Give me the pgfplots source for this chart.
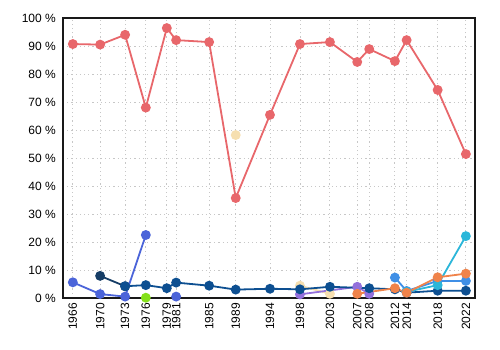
\documentclass[border=0pt]{standalone}
\usepackage{pgfplots}
\pgfplotsset{compat=1.18}
\usepackage{fontspec}
\setmainfont{Liberation Sans}
\definecolor{cred}{HTML}{E8676B}
\definecolor{cnavy}{HTML}{163D66}
\definecolor{cblue}{HTML}{0D4F91}
\definecolor{croyal}{HTML}{4B64D9}
\definecolor{cgreen}{HTML}{84E01A}
\definecolor{ccream}{HTML}{F6DFB0}
\definecolor{cpurple}{HTML}{9370DB}
\definecolor{corange}{HTML}{F0834A}
\definecolor{clblue}{HTML}{3F8FE6}
\definecolor{ccyan}{HTML}{2BB6D9}
% x positions are election dates (decimal years)
\begin{document}
\begin{tikzpicture}[x=1pt,y=1pt]
\path (-63pt,-52pt) rectangle (437pt,298pt);
\begin{axis}[
  scale only axis, width=412pt, height=280pt,
  at={(0,0)}, anchor=south west,
  xmin=1964.6, xmax=2023.3, ymin=0, ymax=100,
  xtick={1966.0,1969.89,1973.45,1976.40,1979.39,1980.72,1985.42,1989.21,1994.09,1998.36,2002.63,2006.52,2008.23,2011.89,2013.56,2017.98,2022.0},
  xticklabels={1966,1970,1973,1976,1979,1981,1985,1989,1994,1998,2003,2007,2008,2012,2014,2018,2022},
  ytick={0,10,...,100},
  yticklabels={0 \%,10 \%,20 \%,30 \%,40 \%,50 \%,60 \%,70 \%,80 \%,90 \%,100 \%},
  major tick length=0pt,
  xticklabel shift=4pt,
  yticklabel shift=5pt,
  xticklabel style={rotate=90, anchor=east, font=\fontsize{12}{13}\selectfont, inner sep=1pt},
  yticklabel style={font=\fontsize{12}{13}\selectfont, inner sep=2pt},
  grid=major,
  major grid style={dash pattern=on 1.2pt off 3pt, color=black!22, line width=0.9pt},
  axis line style={black!90, line width=1.3pt},
  unbounded coords=jump,
  every axis plot/.append style={line width=1.8pt, mark=*, mark size=4pt},
  clip=false,
]
\addplot[color=cred] coordinates {(1966.0,90.7)(1969.89,90.5)(1973.45,94)(1976.40,68)(1979.39,96.4)(1980.72,92.1)(1985.42,91.4)(1989.21,35.7)(1994.09,65.4)(1998.36,90.7)(2002.63,91.4)(2006.52,84.3)(2008.23,88.9)(2011.89,84.6)(2013.56,92.1)(2017.98,74.3)(2022.0,51.4)};
\addplot[color=ccream] coordinates {(1989.21,58.2)(1994.09,nan)(1998.36,4.4)(2002.63,1.5)};
\addplot[color=cpurple] coordinates {(1998.36,1.3)(2006.52,4.0)(2008.23,1.5)};
\addplot[color=cnavy] coordinates {(1969.89,7.9)(1973.45,4.2)};
\addplot[color=cblue] coordinates {(1973.45,4.2)(1976.40,4.6)(1979.39,3.5)(1980.72,5.5)(1985.42,4.4)(1989.21,3.0)(1994.09,3.3)(1998.36,3.1)(2002.63,4.0)(2008.23,3.5)(2011.89,3.1)(2013.56,1.9)(2017.98,2.6)(2022.0,2.6)};
\addplot[color=croyal] coordinates {(1966.0,5.6)(1969.89,1.4)(1973.45,0.5)(1976.40,22.5)(1979.39,nan)(1980.72,0.5)};
\addplot[color=cgreen] coordinates {(1976.40,0.1)};
\addplot[color=clblue] coordinates {(2011.89,7.3)(2013.56,2.5)(2017.98,6.1)(2022.0,6.1)};
\addplot[color=ccyan] coordinates {(2013.56,2.2)(2017.98,4.6)(2022.0,22.1)};
\addplot[color=corange] coordinates {(2006.52,1.5)(2011.89,3.5)(2013.56,1.9)(2017.98,7.4)(2022.0,8.7)};
\end{axis}
\end{tikzpicture}
\end{document}
